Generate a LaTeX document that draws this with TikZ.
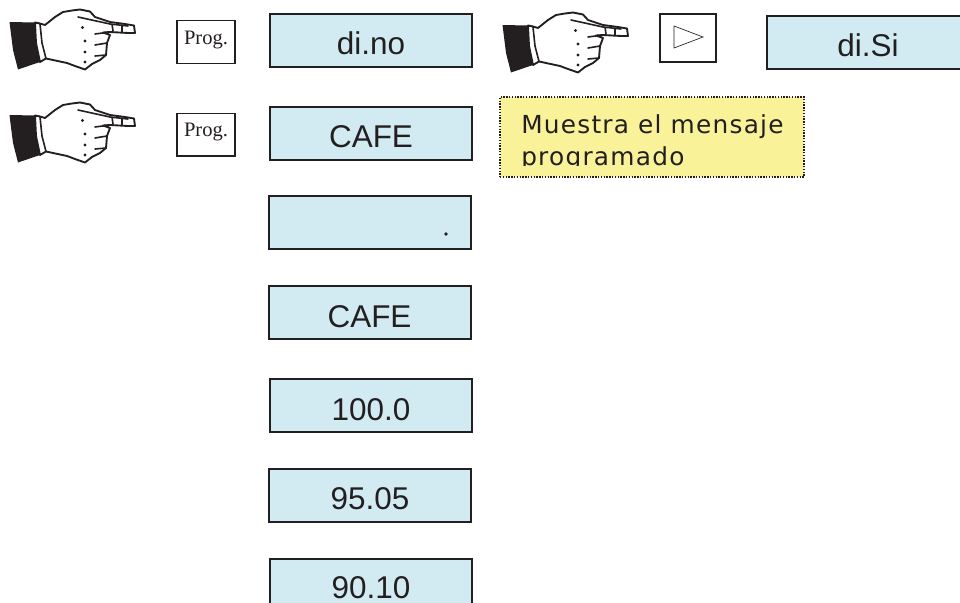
\documentclass[tikz,border=0pt]{standalone}
\usepackage{fontspec}
\setmainfont{Liberation Sans}
\newfontfamily\progfont{Liberation Serif}
\newfontfamily\notefont[LetterSpace=5]{DejaVu Sans}
\definecolor{ink}{HTML}{231F20}
\definecolor{lcd}{HTML}{D2EBF2}
\definecolor{notefill}{HTML}{F9F298}
\tikzset{
  x=0.75pt,y=-0.75pt,
  lcdbox/.style={draw=ink,line width=1.5pt,fill=lcd,minimum width=151.5pt,minimum height=39.75pt,
    inner sep=0pt,text=ink,text height=21.75pt,text depth=0pt,font=\fontsize{23.6pt}{26pt}\selectfont},
  keybox/.style={draw=ink,line width=1pt,fill=white,minimum width=43.5pt,minimum height=32pt,inner sep=0pt,
    text=ink,text height=3pt,text depth=0pt,font=\progfont\fontsize{15.4pt}{17pt}\selectfont},
  notetext/.style={anchor=base west,inner sep=0pt,text=ink,font=\notefont\fontsize{18.6pt}{22pt}\selectfont},
  hand/.pic={
    \fill[ink] (9.5,22) -- (35,22.5) -- (36,43) -- (40,62) -- (18,69.5) -- (13,50) -- cycle;
    \draw[ink,line width=1.4pt,fill=white,line join=round]
      (35,22.5) -- (40,23.5) -- (45,25) -- (55,17) -- (63,12) -- (72,10.5) -- (80,9.5) -- (90,11.5) -- (95,17)
      -- (110,22) -- (125,24) -- (134,25.5) -- (135,33) -- (128,33) -- (110,32) -- (103,32.5)
      -- (110,35) -- (107,43) -- (106,55) -- (100,60) -- (92,64) -- (85,69.5) -- (75,66) -- (67,63) -- (46,58.5)
      -- (40,62) -- (36,43) -- cycle;
    \draw[ink,line width=1.2pt,line cap=round]
      (40,24) -- (42,43) -- (46,58.5)
      (78,17) -- (110,24) -- (128,26)
      (95,34) -- (110,32)
      (95,45) -- (107,43)
      (95,56) -- (106,55)
      (112,24) -- (113,31)
      (122,25) -- (122,32);
    \fill[ink] (82.5,27.5) circle (1.6) (85,41) circle (1.6) (85,52) circle (1.6) (85,62) circle (1.6);
  }
}
\begin{document}
\begin{tikzpicture}
\useasboundingbox (0,0) rectangle (960,603);
\clip (0,0) rectangle (960,603);
\pic at (0,0) {hand};
\pic at (0,93) {hand};
\pic at (493,3) {hand};
\node[keybox] (prog1) at (206,42) {Prog.};
\node[keybox] (prog2) at (206,134.5) {Prog.};
\node[keybox,minimum width=42pt,minimum height=36pt] (play) at (688,38) {};
\draw[ink,line width=0.5pt,line join=miter] (674,26) -- (703,37) -- (674,48) -- cycle;
\node[lcdbox] (dino) at (371,40) {di.no};
\node[lcdbox] (disi) at (868,42) {di.Si};
\node[lcdbox] (cafe1) at (371,133) {CAFE};
\node[lcdbox] (blank) at (369.5,222.5) {};
\fill[ink] (446,234) circle (1.8);
\node[lcdbox] (cafe2) at (369.5,312.5) {CAFE};
\node[lcdbox] (v100) at (371,405.5) {100.0};
\node[lcdbox] (v95) at (370,495) {95.05};
\node[lcdbox] (v90) at (371,585) {};
\node[anchor=base,inner sep=0pt,text=ink,font=\fontsize{23.6pt}{26pt}\selectfont] (v90text) at (371,598) {90.10};
\node[draw=ink,line width=1.1pt,densely dotted,fill=notefill,minimum width=228pt,minimum height=60pt,inner sep=0pt] (note) at (652,137) {};
\begin{scope}
\clip (500,97) rectangle (804,165.5);
\node[notetext] (line1) at (521,133) {Muestra el mensaje};
\node[notetext] (line2) at (521,165) {programado};
\end{scope}
\end{tikzpicture}
\end{document}
